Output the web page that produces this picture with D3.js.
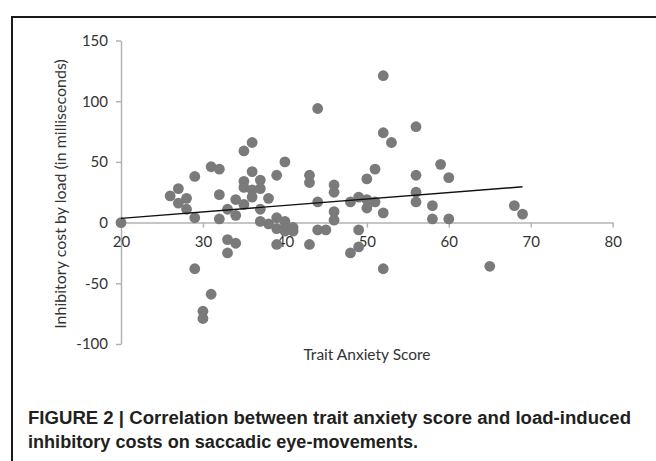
<!DOCTYPE html>
<html><head><meta charset="utf-8">
<script src="https://cdn.jsdelivr.net/npm/d3@7"></script>
<style>body{margin:0;background:#fff}svg{display:block}</style>
</head><body>
<svg id="c" width="656" height="461"></svg>
<script>
const anxiety = [20,26,27,27,28,28,29,29,29,30,30,31,31,32,32,32,33,33,33,34,34,34,35,35,35,35,36,36,36,36,37,37,37,37,38,38,39,39,39,39,40,40,40,40,41,41,43,43,43,44,44,44,45,46,46,46,46,48,48,49,49,49,50,50,50,51,51,52,52,52,52,53,56,56,56,56,58,58,59,60,60,65,68,69];
const cost    = [0,22,28,16,20,11,4,38,-38,-73,-79,-59,46,44,23,3,11,-14,-25,-17,6,19,59,34,29,15,66,42,27,21,35,28,11,1,20,-1,39,4,-5,-18,50,1,-4,-7,-4,-7,39,33,-18,94,17,-6,-6,31,25,9,2,17,-25,21,-6,-20,36,19,12,44,17,121,74,8,-38,66,79,39,25,17,14,3,48,37,3,-36,14,7];
const trendX = [20,69];
const trendY = [3.5,29.5];
const xTicks = [20,30,40,50,60,70,80];
const yTicks = [-100,-50,0,50,100,150];

const svg = d3.select("#c");
svg.append("rect").attr("x",12).attr("y",17).attr("width",700).attr("height",500)
  .attr("fill","none").attr("stroke","#1a1a1a").attr("stroke-width",2);

const x = d3.scaleLinear().domain([20,80]).range([121,612.7]);
const y = d3.scaleLinear().domain([-100,150]).range([344,40.5]);
const axisCol = "#b3b3b3", textCol = "#333";
const font = "Lato, 'Open Sans', sans-serif";
const fmt = d => String(d);

const ya = svg.append("g").attr("transform",`translate(${x(20)},0)`)
  .call(d3.axisLeft(y).tickValues(yTicks).tickFormat(fmt).tickSize(5).tickSizeOuter(0).tickPadding(8));
const xa = svg.append("g").attr("transform",`translate(0,${y(0)})`)
  .call(d3.axisBottom(x).tickValues(xTicks).tickFormat(fmt).tickSize(5).tickSizeOuter(0).tickPadding(8));
[ya,xa].forEach(g=>{
  g.select(".domain").attr("stroke",axisCol).attr("stroke-width",1.5);
  g.selectAll(".tick line").attr("stroke",axisCol).attr("stroke-width",1.5);
  g.selectAll(".tick text").attr("fill",textCol).style("font-family",font).style("font-size","15px");
});
xa.selectAll(".tick text").attr("dy","0.75em");

svg.append("g").selectAll("circle").data(anxiety.map((a,i)=>[a,cost[i]])).join("circle")
  .attr("cx",d=>x(d[0])).attr("cy",d=>y(d[1])).attr("r",5.4).attr("fill","#7a7a7a");

svg.append("line").attr("x1",x(trendX[0])).attr("y1",y(trendY[0]))
  .attr("x2",x(trendX[1])).attr("y2",y(trendY[1])).attr("stroke","#111").attr("stroke-width",1.4);

svg.append("text").attr("transform","translate(60,194) rotate(-90)").attr("text-anchor","middle")
  .attr("dy","0.35em").attr("fill",textCol).style("font-family",font).style("font-size","16px")
  .text("Inhibitory cost by load (in milliseconds)");
svg.append("text").attr("x",367).attr("y",355).attr("text-anchor","middle").attr("dy","0.35em")
  .attr("fill",textCol).style("font-family",font).style("font-size","15.5px").text("Trait Anxiety Score");

const cap = svg.append("g").style("font-family","'Liberation Sans Narrow', 'Liberation Sans', Arial, sans-serif")
  .style("font-weight","bold").style("font-size","18px").attr("fill","#231f20");
cap.append("text").attr("x",28).attr("y",424).attr("textLength",603).attr("lengthAdjust","spacingAndGlyphs")
  .text("FIGURE 2 | Correlation between trait anxiety score and load-induced");
cap.append("text").attr("x",28).attr("y",448).attr("textLength",390).attr("lengthAdjust","spacingAndGlyphs")
  .text("inhibitory costs on saccadic eye-movements.");
</script>
</body></html>
